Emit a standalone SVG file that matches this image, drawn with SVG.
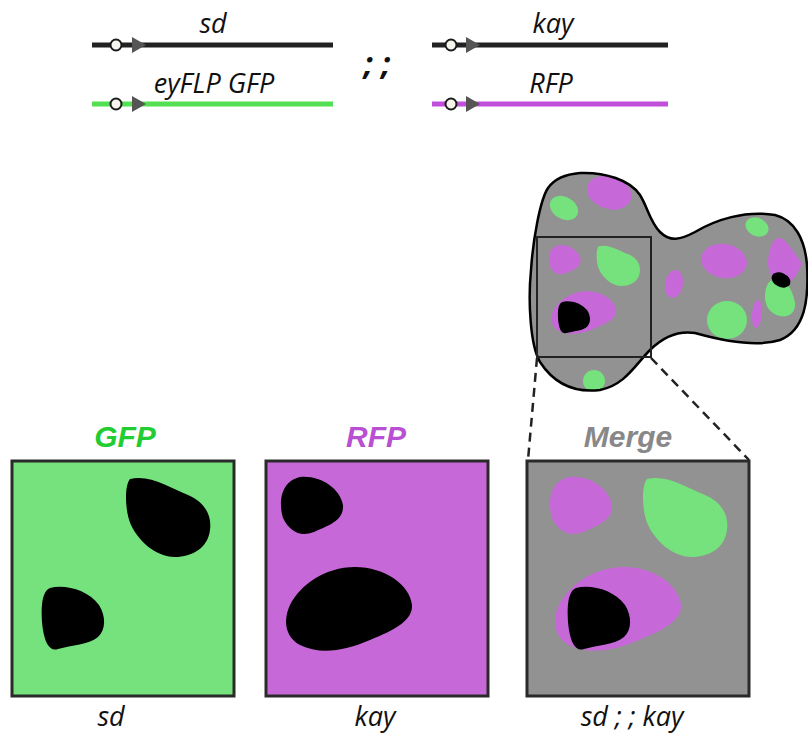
<svg xmlns="http://www.w3.org/2000/svg" xmlns:xlink="http://www.w3.org/1999/xlink" width="808" height="738" viewBox="0 0 808 738">
  <style>
    .lbl { font-family: "Open Sans", "Liberation Sans", sans-serif; font-style: italic; font-size: 27px; fill: #111; text-anchor: middle; }
    .ttl { font-family: "Liberation Sans", Arial, sans-serif; font-style: italic; font-weight: bold; font-size: 30px; text-anchor: middle; }
    .panel { stroke: #2a2a2a; stroke-width: 3; }
    .gfp { fill: #75e27d; }
    .rfp { fill: #c768d9; }
    .tissue { fill: #929292; }
    .mut { fill: #000; }
    .knob { fill: #f5f5ee; stroke: #1a1a1a; stroke-width: 2; }
    .tri { fill: #555; }
    .dash { stroke: #222; stroke-width: 2.5; stroke-dasharray: 9 6; fill: none; }
  </style>
  <defs>
    <!-- clone shapes -->
    <path id="tearGfp" d="M130,479 C150,474 170,488 188,495 C205,502 212,516 210,530 C208,548 192,557 175,557 C155,557 138,540 131,525 C125,512 124,486 130,479 Z"/>
    <path id="smallGfp" d="M50,588 C65,584 88,590 99,605 C106,616 106,630 98,637 C88,645 72,645 58,649 C50,652 45,643 43,630 C41,615 40,592 50,588 Z"/>
    <path id="smallRfp" d="M300,477 C320,475 340,488 343,505 C344,520 330,525 314,532 C300,537 290,532 283,518 C279,505 279,482 300,477 Z"/>
    <path id="bigRfp" d="M355,567 C385,567 410,585 412,605 C413,620 395,630 370,640 C345,651 320,655 300,645 C285,637 283,620 290,605 C300,585 325,567 355,567 Z"/>
    <!-- merged field content -->
    <g id="mergeContent">
      <rect x="527" y="461" width="222" height="235" class="tissue"/>
      <use xlink:href="#smallRfp" class="rfp" transform="translate(269,0)"/>
      <use xlink:href="#bigRfp" class="rfp" transform="translate(269,0)"/>
      <use xlink:href="#tearGfp" class="gfp" transform="translate(517,0)"/>
      <use xlink:href="#smallGfp" class="mut" transform="translate(526,0)"/>
    </g>
    <path id="discOutline" d="M580,173 C605,172 630,180 640,195 C648,208 650,222 660,232 C670,242 680,240 695,232 C715,220 745,210 775,215 C795,220 805,240 807,265 C809,300 805,330 780,340 C755,348 720,340 695,333 C675,330 660,340 650,350 C635,365 625,385 600,390 C575,393 555,385 540,362 C530,345 528,300 531,270 C533,240 540,200 548,188 C555,178 568,174 580,173 Z"/>
    <clipPath id="discClip"><use xlink:href="#discOutline"/></clipPath>
  </defs>

  <!-- genotype constructs -->
  <g id="construct-sd">
    <line x1="92" y1="45" x2="333" y2="45" stroke="#222" stroke-width="5"/>
    <polygon points="132,37 146,45 132,53" class="tri"/>
    <circle cx="116" cy="45" r="5.5" class="knob"/>
    <text x="213" y="33" class="lbl">sd</text>
  </g>
  <g id="construct-gfp">
    <line x1="92" y1="104" x2="333" y2="104" stroke="#52e052" stroke-width="5"/>
    <polygon points="132,96 146,104 132,112" class="tri"/>
    <circle cx="116" cy="104" r="5.5" class="knob"/>
    <text x="214" y="93" class="lbl">eyFLP GFP</text>
  </g>
  <g id="construct-kay">
    <line x1="432" y1="45" x2="668" y2="45" stroke="#222" stroke-width="5"/>
    <polygon points="466,37 480,45 466,53" class="tri"/>
    <circle cx="451" cy="45" r="5.5" class="knob"/>
    <text x="553" y="33" class="lbl">kay</text>
  </g>
  <g id="construct-rfp">
    <line x1="432" y1="104" x2="668" y2="104" stroke="#c24fdb" stroke-width="5"/>
    <polygon points="466,96 480,104 466,112" class="tri"/>
    <circle cx="451" cy="104" r="5.5" class="knob"/>
    <text x="551" y="93" class="lbl">RFP</text>
  </g>
  <g id="separator">
    <text x="377" y="75" class="lbl" style="font-size:32px;font-weight:bold">; ;</text>
  </g>

  <!-- eye disc -->
  <g id="disc">
    <use xlink:href="#discOutline" class="tissue"/>
    <g clip-path="url(#discClip)">
      <ellipse cx="564" cy="208" rx="15" ry="11" transform="rotate(30 564 208)" class="gfp"/>
      <path d="M595,178 C610,172 628,180 631,192 C634,205 620,212 608,209 C596,206 586,198 587,188 C588,182 591,180 595,178 Z" class="rfp"/>
      <ellipse cx="594" cy="381" rx="11" ry="11" class="gfp"/>
      <ellipse cx="674" cy="284" rx="9" ry="14" transform="rotate(10 674 284)" class="rfp"/>
      <ellipse cx="724" cy="261" rx="23" ry="17" transform="rotate(10 724 261)" class="rfp"/>
      <ellipse cx="757" cy="227" rx="12" ry="9" transform="rotate(25 757 227)" class="gfp"/>
      <path d="M778,238 C785,236 795,255 802,263 C798,275 790,285 782,287 C774,283 767,272 768,260 C769,250 772,240 778,238 Z" class="rfp"/>
      <path d="M772,280 C785,276 793,290 795,303 C796,313 788,318 780,316 C770,314 764,305 765,294 C766,286 768,282 772,280 Z" class="gfp"/>
      <ellipse cx="781" cy="280" rx="10" ry="7" transform="rotate(25 781 280)" class="mut"/>
      <ellipse cx="757" cy="314" rx="5" ry="14" transform="rotate(5 757 314)" class="rfp"/>
      <ellipse cx="727" cy="320" rx="20" ry="19" class="gfp"/>
      <use xlink:href="#mergeContent" transform="translate(537,237) scale(0.514,0.511) translate(-527,-461)"/>
    </g>
    <use xlink:href="#discOutline" fill="none" stroke="#000" stroke-width="2.5"/>
    <rect x="537" y="237" width="114" height="120" fill="none" stroke="#222" stroke-width="2"/>
  </g>

  <!-- zoom connectors -->
  <g id="connectors">
    <line x1="537" y1="358" x2="528" y2="460" class="dash"/>
    <line x1="651" y1="358" x2="749" y2="460" class="dash"/>
  </g>

  <!-- panels -->
  <g id="panel-gfp">
    <text x="125" y="447" class="ttl" fill="#22cc33">GFP</text>
    <rect x="12" y="461" width="222" height="235" class="gfp panel"/>
    <use xlink:href="#tearGfp" class="mut"/>
    <use xlink:href="#smallGfp" class="mut"/>
    <text x="111" y="726" class="lbl">sd</text>
  </g>
  <g id="panel-rfp">
    <text x="376" y="447" class="ttl" fill="#b94fd2">RFP</text>
    <rect x="266" y="461" width="222" height="235" class="rfp panel"/>
    <use xlink:href="#smallRfp" class="mut"/>
    <use xlink:href="#bigRfp" class="mut"/>
    <text x="375" y="726" class="lbl">kay</text>
  </g>
  <g id="panel-merge">
    <text x="628" y="447" class="ttl" fill="#888">Merge</text>
    <use xlink:href="#mergeContent"/>
    <rect x="527" y="461" width="222" height="235" fill="none" class="panel"/>
    <text x="632" y="726" class="lbl">sd ; ; kay</text>
  </g>
</svg>
